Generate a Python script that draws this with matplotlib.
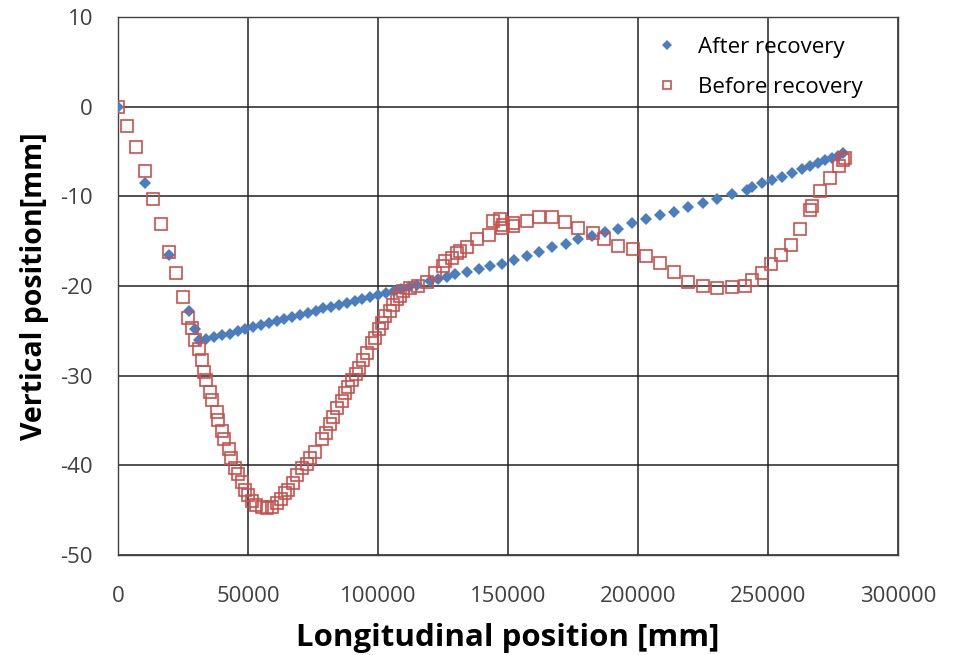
import numpy as np
import matplotlib
matplotlib.use("Agg")
import matplotlib.pyplot as plt

plt.rcParams['font.family'] = ['Open Sans', 'DejaVu Sans']

# After recovery (blue diamonds)
after_x = [0, 10400, 19700, 27400, 29600, 31300,
           34000, 37000, 40000, 43000, 46000, 49000, 52000, 55000, 58000,
           61000, 64000, 67000, 70000, 73000, 76000, 79000, 82000, 85000,
           88000, 91000, 94000, 97000, 100000, 103000, 106000, 109000,
           112000, 115000, 120000, 123200, 126400, 129600, 134100, 139000,
           143100, 147600, 152300, 157200, 162000, 167000, 172200, 177000,
           182200, 187300, 192400, 197800, 203000, 208500, 213800, 219300,
           224900, 230500, 236300, 241800, 243700, 247600, 251400, 255300,
           259100, 263000, 266200, 269300, 271900, 274500, 277000, 278700]
after_y = [0, -8.5, -16.5, -22.8, -24.8, -26.05,
           -25.9, -25.7, -25.5, -25.3, -25.0, -24.8, -24.6, -24.3, -24.1,
           -23.9, -23.7, -23.5, -23.2, -23.0, -22.8, -22.5, -22.3, -22.1,
           -21.9, -21.7, -21.4, -21.2, -21.0, -20.8, -20.6, -20.3,
           -20.1, -19.9, -19.4, -19.2, -19.0, -18.7, -18.4, -18.1,
           -17.8, -17.5, -17.1, -16.6, -16.2, -15.7, -15.3, -14.8,
           -14.4, -14.0, -13.6, -13.0, -12.5, -12.1, -11.7, -11.2,
           -10.7, -10.3, -9.7, -9.25, -9.0, -8.5, -8.2, -7.8,
           -7.4, -7.0, -6.65, -6.3, -6.0, -5.7, -5.5, -5.2]

# Before recovery (red hollow squares)
before_x = [0, 3600, 6900, 10400, 13600, 16700, 19700, 22300, 25100, 27000,
            28500, 29600, 31000, 32200, 33100, 33800, 35400, 36300, 38000,
            38600, 40100, 40800, 42700, 43300, 45000, 46300, 47600, 48800,
            50100, 51400, 53100, 55300, 57200, 59100, 61000, 62700, 64200,
            65500, 67400, 68700, 70700, 72600, 73800, 75800, 78300, 80000,
            81500, 82700, 84400, 86000, 87300, 88600, 90000, 91400, 92600,
            94200, 95700, 97600, 98800, 100400, 101400, 102700, 104600,
            105600, 107200, 108500, 109700, 112300, 115500, 118700, 121900,
            125100, 125800, 128300, 130300, 131500, 134100, 137900, 142800,
            144300, 146900, 147600, 148200, 152000, 152000, 157200, 162000,
            166800, 172000, 177000, 182600, 187000, 192400, 198000, 203100,
            208500, 213800, 219300, 224900, 230500, 236300, 241300, 243900,
            247500, 251300, 255100, 258700, 262300, 266000, 266800, 270000,
            273700, 277200, 278800, 279600]
before_y = [0, -2.1, -4.5, -7.2, -10.3, -13.1, -16.2, -18.5, -21.2, -23.6,
            -24.7, -26.0, -27.0, -28.3, -29.6, -30.5, -31.8, -32.7, -34.0,
            -34.9, -36.2, -37.1, -38.2, -39.2, -40.3, -41.0, -41.9, -42.7,
            -43.3, -44.0, -44.4, -44.7, -44.75, -44.6, -44.2, -43.8, -43.1,
            -42.7, -42.0, -41.1, -40.3, -39.9, -39.2, -38.5, -37.1, -36.4,
            -35.4, -34.6, -33.6, -32.8, -31.9, -31.3, -30.5, -29.8, -29.1,
            -28.2, -27.5, -26.4, -25.8, -24.8, -24.1, -23.4, -22.8,
            -22.1, -21.5, -21.1, -20.6, -20.2, -20.0, -19.5, -18.5,
            -17.8, -17.2, -16.9, -16.3, -16.1, -15.6, -14.8, -14.3,
            -12.8, -12.5, -13.5, -13.2, -13.0, -13.3, -12.7, -12.3,
            -12.3, -12.9, -13.5, -14.1, -14.75, -15.5, -15.9, -16.6,
            -17.4, -18.4, -19.6, -20.0, -20.2, -20.1, -20.0, -19.3,
            -18.5, -17.6, -16.5, -15.4, -13.6, -11.5, -11.1, -9.4,
            -7.95, -6.6, -6.0, -5.7]

xticks = [0, 50000, 100000, 150000, 200000, 250000, 300000]
yticks = [10, 0, -10, -20, -30, -40, -50]

fig = plt.figure(figsize=(9.62, 6.55), dpi=100)
ax = fig.add_axes([0.1227, 0.1527, 0.8108, 0.8213])

ax.plot(after_x, after_y, 'D', color='#4a7ebf', markersize=6.5,
        markeredgewidth=0, label='After recovery', zorder=3)
ax.plot(before_x, before_y, 's', markerfacecolor='none', markeredgecolor='#c9504d',
        markersize=8.2, markeredgewidth=1.2, label='Before recovery', zorder=4)

ax.set_xlim(0, 300000)
ax.set_ylim(-50, 10)
ax.set_xticks(xticks)
ax.set_xticklabels([str(t) for t in xticks])
ax.set_yticks(yticks)
ax.set_yticklabels([str(t) for t in yticks])
ax.tick_params(length=0, labelsize=16, colors='#404040')
ax.tick_params(axis='y', pad=18)
ax.tick_params(axis='x', pad=22)

ax.grid(True, color='#222222', linewidth=1.1)
ax.set_axisbelow(True)
for s in ax.spines.values():
    s.set_color('#404040')
    s.set_linewidth(1.0)

ax.set_xlabel('Longitudinal position [mm]', fontsize=22.5, fontweight='bold', labelpad=12)
ax.set_ylabel('Vertical position[mm]', fontsize=20.5, fontweight='bold', labelpad=8)

leg = ax.legend(loc='upper right', frameon=False, fontsize=16, handletextpad=0.4,
                markerscale=0.75, bbox_to_anchor=(0.98, 1.0), labelspacing=0.85)

fig.savefig('out.png', dpi=100)
